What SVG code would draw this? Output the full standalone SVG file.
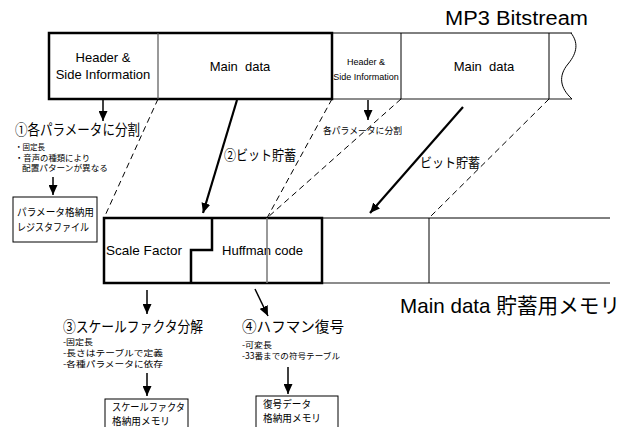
<svg xmlns="http://www.w3.org/2000/svg" width="633" height="427" viewBox="0 0 633 427">
<style>
.t{font-family:"Liberation Sans","Noto Sans CJK JP",sans-serif;fill:#000}
.j{font-family:"Noto Sans CJK JP","Liberation Sans",sans-serif;fill:#000}
.pre{white-space:pre}
.thick{fill:none;stroke:#000;stroke-width:2.5}
.thin{fill:none;stroke:#000;stroke-width:1}
.gray{fill:none;stroke:#666;stroke-width:1.5}
.dash{fill:none;stroke:#000;stroke-width:1;stroke-dasharray:6 4}
.arr{fill:none;stroke:#000;stroke-width:1.5;marker-end:url(#ah)}
.arrb{fill:none;stroke:#000;stroke-width:2.2;marker-end:url(#ah)}
.box{fill:#fff;stroke:#000;stroke-width:1}
</style>
<defs>
<marker id="ah" markerUnits="userSpaceOnUse" markerWidth="10" markerHeight="9" viewBox="0 0 10 9" refX="10" refY="4.5" orient="auto">
<path d="M0,0 L10,4.5 L0,9 z" fill="#000"/>
</marker>
</defs>
<rect width="633" height="427" fill="#fff"/>

<text class="t" x="445" y="25" font-size="20" textLength="143" lengthAdjust="spacingAndGlyphs">MP3 Bitstream</text>

<g id="bitstream">
<line class="thin" x1="332" y1="33" x2="572" y2="33"/>
<line class="gray" x1="332" y1="99" x2="572" y2="99"/>
<line class="thin" x1="401" y1="33" x2="401" y2="99"/>
<line class="thin" x1="549" y1="33" x2="549" y2="99"/>
<path class="thin" d="M571,33 C578,42 578,52 568,64 C558,76 560,88 572,99"/>
<rect class="thick" x="49" y="33" width="283" height="66"/>
<line x1="158" y1="33" x2="158" y2="99" stroke="#555" stroke-width="1.2"/>
</g>
<g id="header1">
<text class="t" x="103" y="62" font-size="13" text-anchor="middle">Header &amp;</text>
<text class="t" x="103" y="79" font-size="13" text-anchor="middle">Side Information</text>
</g>
<g id="main1">
<text class="t pre" x="240" y="71" font-size="13" text-anchor="middle">Main  data</text>
</g>
<g id="header2">
<text class="t" x="366" y="65" font-size="9" text-anchor="middle">Header &amp;</text>
<text class="t" x="366" y="80" font-size="9" text-anchor="middle">Side Information</text>
</g>
<g id="main2">
<text class="t pre" x="484" y="71" font-size="13" text-anchor="middle">Main  data</text>
</g>

<g id="memory">
<line class="thin" x1="322" y1="218" x2="610" y2="218"/>
<line class="gray" x1="322" y1="283" x2="610" y2="283"/>
<line class="thin" x1="429" y1="218" x2="429" y2="283"/>
<text class="t" x="106" y="255" font-size="13" textLength="76" lengthAdjust="spacingAndGlyphs">Scale Factor</text>
<text class="t" x="222" y="255" font-size="13" textLength="81" lengthAdjust="spacingAndGlyphs">Huffman code</text>
<path class="thick" d="M104,218 H322 V283 H104 Z" stroke-width="2"/>
<path class="thick" d="M212,218 V250 H191 V283" stroke-width="2"/>
<line x1="267" y1="218" x2="267" y2="283" stroke="#777" stroke-width="1.5"/>
</g>
<text class="t" x="400" y="313" font-size="21" textLength="220" lengthAdjust="spacingAndGlyphs">Main data 貯蓄用メモリ</text>

<g id="connectors">
<line class="dash" x1="158" y1="99" x2="104" y2="218"/>
<line class="dash" x1="332" y1="99" x2="267" y2="218"/>
<line class="dash" x1="401" y1="99" x2="267" y2="218"/>
<line class="dash" x1="549" y1="99" x2="429" y2="218"/>
<line class="arr" x1="103" y1="100" x2="103" y2="121"/>
<line class="arr" x1="368" y1="100" x2="368" y2="120"/>
<line class="arr" x1="53" y1="177" x2="53" y2="195"/>
<line class="arrb" x1="237" y1="100" x2="203" y2="213"/>
<line class="arrb" x1="463" y1="107" x2="370" y2="213"/>
<line class="arr" x1="147" y1="290" x2="147" y2="314"/>
<line class="arr" x1="255" y1="289" x2="268" y2="316"/>
<line class="arr" x1="147" y1="373" x2="147" y2="396"/>
<line class="arr" x1="288" y1="367" x2="288" y2="394"/>
</g>

<g id="step1">
<text class="j" x="15" y="135" font-size="14.5" textLength="125" lengthAdjust="spacingAndGlyphs">①各パラメータに分割</text>
<text class="j" x="15" y="150" font-size="8.5" textLength="30" lengthAdjust="spacingAndGlyphs">・固定長</text>
<text class="j" x="15" y="160.5" font-size="8.5" textLength="75" lengthAdjust="spacingAndGlyphs">・音声の種類により</text>
<text class="j" x="22" y="171" font-size="8.5" textLength="86" lengthAdjust="spacingAndGlyphs">配置パターンが異なる</text>
</g>
<g id="register">
<rect class="box" x="13" y="197" width="84" height="45"/>
<text class="j" x="17" y="216" font-size="10.5" textLength="77" lengthAdjust="spacingAndGlyphs">パラメータ格納用</text>
<text class="j" x="17" y="231" font-size="10.5" textLength="72" lengthAdjust="spacingAndGlyphs">レジスタファイル</text>
</g>
<g id="step2">
<text class="j" x="224" y="160" font-size="14" textLength="72" lengthAdjust="spacingAndGlyphs">②ビット貯蓄</text>
</g>
<g id="split2">
<text class="j" x="323" y="134" font-size="9.5" textLength="79" lengthAdjust="spacingAndGlyphs">各パラメータに分割</text>
</g>
<g id="bit2">
<text class="j" x="420" y="167" font-size="13" textLength="60" lengthAdjust="spacingAndGlyphs">ビット貯蓄</text>
</g>
<g id="step3">
<text class="j" x="63" y="332" font-size="15" textLength="140" lengthAdjust="spacingAndGlyphs">③スケールファクタ分解</text>
<text class="j" x="63" y="345" font-size="8.5" textLength="30" lengthAdjust="spacingAndGlyphs">-固定長</text>
<text class="j" x="63" y="356" font-size="8.5" textLength="100" lengthAdjust="spacingAndGlyphs">-長さはテーブルで定義</text>
<text class="j" x="63" y="367" font-size="8.5" textLength="100" lengthAdjust="spacingAndGlyphs">-各種パラメータに依存</text>
</g>
<g id="step4">
<text class="j" x="242" y="332" font-size="15" textLength="102" lengthAdjust="spacingAndGlyphs">④ハフマン復号</text>
<text class="j" x="242" y="348" font-size="8.5" textLength="30" lengthAdjust="spacingAndGlyphs">-可変長</text>
<text class="j" x="242" y="359" font-size="8.5" textLength="98" lengthAdjust="spacingAndGlyphs">-33番までの符号テーブル</text>
</g>
<g id="sfmem">
<rect class="box" x="105" y="399" width="83" height="40"/>
<text class="j" x="112" y="411" font-size="10.5" textLength="73" lengthAdjust="spacingAndGlyphs">スケールファクタ</text>
<text class="j" x="112" y="425" font-size="10.5" textLength="58" lengthAdjust="spacingAndGlyphs">格納用メモリ</text>
</g>
<g id="hmem">
<rect class="box" x="256" y="396" width="82" height="40"/>
<text class="j" x="263" y="408" font-size="10.5" textLength="48" lengthAdjust="spacingAndGlyphs">復号データ</text>
<text class="j" x="263" y="422" font-size="10.5" textLength="58" lengthAdjust="spacingAndGlyphs">格納用メモリ</text>
</g>
</svg>
